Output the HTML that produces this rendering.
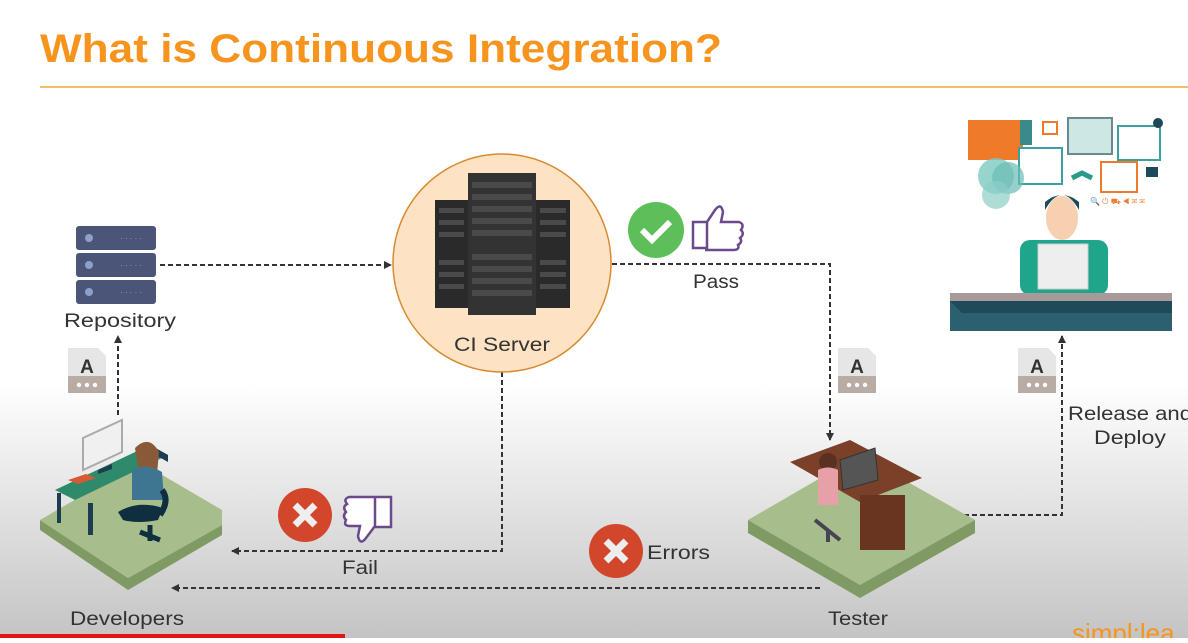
<!DOCTYPE html>
<html><head><meta charset="utf-8"><style>
body{margin:0;width:1188px;height:638px;overflow:hidden;font-family:"Liberation Sans",sans-serif}
</style></head><body>
<svg width="1188" height="638" viewBox="0 0 1188 638" xmlns="http://www.w3.org/2000/svg" font-family="Liberation Sans, sans-serif">
<defs>
<linearGradient id="bg" x1="0" y1="0" x2="0" y2="1">
<stop offset="0" stop-color="#fff"/><stop offset="0.6" stop-color="#fff"/><stop offset="1" stop-color="#c4c4c4"/>
</linearGradient>
<marker id="ar" markerWidth="8" markerHeight="8" refX="7" refY="4" orient="auto" markerUnits="userSpaceOnUse"><path d="M0,0 L8,4 L0,8 z" fill="#333"/></marker>
</defs>
<rect width="1188" height="638" fill="url(#bg)"/>
<text x="40" y="62" font-size="40" font-weight="bold" fill="#f7941d" textLength="682" lengthAdjust="spacingAndGlyphs">What is Continuous Integration?</text>
<line x1="40" y1="87" x2="1188" y2="87" stroke="#f7a440" stroke-width="1.5"/>

<g stroke="#333" stroke-width="2" stroke-dasharray="5,3" fill="none">
<path d="M160,265 H391" marker-end="url(#ar)"/>
<path d="M612,264 H830 V440" marker-end="url(#ar)"/>
<path d="M118,415 V336" marker-end="url(#ar)"/>
<path d="M502,372 V551 H232" marker-end="url(#ar)"/>
<path d="M820,588 H172" marker-end="url(#ar)"/>
<path d="M940,515 H1062 V336" marker-end="url(#ar)"/>
</g>

<g>
<rect x="76" y="226" width="80" height="24" rx="3" fill="#4a5578"/>
<rect x="76" y="253" width="80" height="24" rx="3" fill="#4a5578"/>
<rect x="76" y="280" width="80" height="24" rx="3" fill="#4a5578"/>
<circle cx="89" cy="238" r="4" fill="#8fa0c8"/><circle cx="89" cy="265" r="4" fill="#8fa0c8"/><circle cx="89" cy="292" r="4" fill="#8fa0c8"/>
<text x="120" y="241" font-size="8" fill="#aab" >· · · · ·</text>
<text x="120" y="268" font-size="8" fill="#aab">· · · · ·</text>
<text x="120" y="295" font-size="8" fill="#aab">· · · · ·</text>
</g>
<text x="120" y="327" font-size="19" fill="#333" text-anchor="middle" textLength="112" lengthAdjust="spacingAndGlyphs">Repository</text>

<circle cx="502" cy="263" r="109" fill="#fde3c3" stroke="#d88a30" stroke-width="1.5"/>
<rect x="435" y="200" width="135" height="108" fill="#2a2a2a"/>
<rect x="468" y="173" width="68" height="142" fill="#333"/>
<g fill="#4a4a4a">
<rect x="472" y="182" width="60" height="6"/><rect x="472" y="194" width="60" height="6"/><rect x="472" y="206" width="60" height="6"/><rect x="472" y="218" width="60" height="6"/><rect x="472" y="230" width="60" height="6"/><rect x="472" y="254" width="60" height="6"/><rect x="472" y="266" width="60" height="6"/><rect x="472" y="278" width="60" height="6"/><rect x="472" y="290" width="60" height="6"/>
<rect x="439" y="208" width="25" height="5"/><rect x="439" y="220" width="25" height="5"/><rect x="439" y="232" width="25" height="5"/><rect x="439" y="260" width="25" height="5"/><rect x="439" y="272" width="25" height="5"/><rect x="439" y="284" width="25" height="5"/>
<rect x="540" y="208" width="26" height="5"/><rect x="540" y="220" width="26" height="5"/><rect x="540" y="232" width="26" height="5"/><rect x="540" y="260" width="26" height="5"/><rect x="540" y="272" width="26" height="5"/><rect x="540" y="284" width="26" height="5"/>
</g>
<text x="502" y="351" font-size="19" fill="#333" text-anchor="middle" textLength="96" lengthAdjust="spacingAndGlyphs">CI Server</text>

<circle cx="656" cy="230" r="28" fill="#5cbf5a"/>
<path d="M642,230 l10,10 l18,-18" stroke="#fff" stroke-width="6" fill="none"/>
<path d="M693,222 h14 v26 h-14z M707,222 l8,-12 q6,-8 8,2 l-2,10 h18 q6,2 2,8 q4,4 -1,8 q3,4 -2,7 q2,5 -5,5 h-28" stroke="#6b4a8a" stroke-width="2.5" fill="#fff"/>
<text x="716" y="288" font-size="19" fill="#333" text-anchor="middle" textLength="46" lengthAdjust="spacingAndGlyphs">Pass</text>

<g id="doc">
<path d="M68,348 h30 l8,8 v37 h-38z" fill="#e6e6e6"/>
<rect x="68" y="376" width="38" height="17" fill="#b8aca4"/>
<text x="87" y="373" font-size="19" font-weight="bold" fill="#333" text-anchor="middle">A</text>
<circle cx="79" cy="385" r="2.2" fill="#fff"/><circle cx="87" cy="385" r="2.2" fill="#fff"/><circle cx="95" cy="385" r="2.2" fill="#fff"/>
</g>
<use href="#doc" x="770" y="0"/>
<use href="#doc" x="950" y="0"/>

<circle cx="305" cy="515" r="27" fill="#d2472b"/>
<path d="M295,505 l20,20 M315,505 l-20,20" stroke="#eee" stroke-width="7"/>
<path d="M375,497 h16 v30 h-16z M375,497 h-26 q-6,2 -2,7 q-5,3 -1,8 q-4,4 0,8 q-3,6 4,6 h10 l-2,10 q2,10 8,2 l9,-12" stroke="#6b4a8a" stroke-width="2.5" fill="#fff"/>
<text x="360" y="574" font-size="19" fill="#333" text-anchor="middle" textLength="36" lengthAdjust="spacingAndGlyphs">Fail</text>

<circle cx="616" cy="551" r="27" fill="#d2472b"/>
<path d="M606,541 l20,20 M626,541 l-20,20" stroke="#eee" stroke-width="7"/>
<text x="647" y="559" font-size="19" fill="#333" textLength="63" lengthAdjust="spacingAndGlyphs">Errors</text>

<path d="M40,520 L40,530 L128,590 L222,535 L222,525 L128,578z" fill="#7f9a63"/>
<path d="M40,520 L140,462 L222,510 L222,525 L128,578z" fill="#a7bd8b"/>
<path d="M55,490 L150,445 L168,455 L75,500z" fill="#2e8a6a"/>
<path d="M150,445 L168,455 L168,462 L150,452z" fill="#1e3d50"/>
<rect x="57" y="493" width="4" height="30" fill="#1e3d50"/><rect x="88" y="503" width="5" height="32" fill="#1e3d50"/>
<path d="M83,438 L122,420 L122,452 L83,470z" fill="#f0f0f0" stroke="#aaa" stroke-width="2"/>
<path d="M98,470 l14,-6 v5 l-14,5z" fill="#1e3d50"/>
<path d="M68,480 l18,-6 l10,4 l-18,6z" fill="#d85a35"/>
<path d="M135,448 q14,-14 24,4 l-2,22 h-18z" fill="#8a5a38"/>
<path d="M132,470 q14,-8 30,2 l2,28 h-32z" fill="#3e7590"/>
<path d="M118,512 q20,-12 45,-4 l-5,12 q-20,4 -35,0z" fill="#0f2f40"/>
<path d="M162,490 q8,10 -2,25" stroke="#0f2f40" stroke-width="6" fill="none"/>
<path d="M140,532 l20,8 M150,525 v16" stroke="#0f2f40" stroke-width="5"/>
<text x="127" y="625" font-size="19" fill="#333" text-anchor="middle" textLength="114" lengthAdjust="spacingAndGlyphs">Developers</text>

<path d="M748,520 L860,455 L975,520 L860,585z" fill="#a7bd8b"/>
<path d="M748,520 L748,533 L860,598 L975,533 L975,520 L860,585z" fill="#7f9a63"/>
<path d="M790,462 L850,440 L922,478 L860,502z" fill="#7a4028"/>
<rect x="860" y="495" width="45" height="55" fill="#6a3520"/>
<path d="M840,460 L875,448 L878,480 L843,490z" fill="#555" stroke="#333"/>
<circle cx="828" cy="462" r="9" fill="#5a3020"/>
<path d="M818,470 q10,-5 20,0 v35 h-20z" fill="#e8a0a8"/>
<path d="M815,520 l25,20 M828,530 v12" stroke="#445" stroke-width="4"/>
<text x="858" y="625" font-size="19" fill="#333" text-anchor="middle" textLength="60" lengthAdjust="spacingAndGlyphs">Tester</text>

<text x="1068" y="420" font-size="19" fill="#333" textLength="124" lengthAdjust="spacingAndGlyphs">Release and</text>
<text x="1094" y="444" font-size="19" fill="#333" textLength="72" lengthAdjust="spacingAndGlyphs">Deploy</text>

<rect x="968" y="120" width="55" height="40" fill="#ee7a2a"/>
<rect x="1020" y="120" width="12" height="25" fill="#3a8a8a"/>
<rect x="1043" y="122" width="14" height="12" fill="none" stroke="#ee7a2a" stroke-width="2"/>
<rect x="1068" y="118" width="44" height="36" fill="#cde8e4" stroke="#6a8a90" stroke-width="2"/>
<rect x="1118" y="126" width="42" height="34" fill="#fff" stroke="#3aa0a0" stroke-width="2"/>
<circle cx="1158" cy="123" r="5" fill="#1d4a5a"/>
<rect x="1019" y="148" width="43" height="36" fill="#fff" stroke="#3aa0a0" stroke-width="2"/>
<circle cx="996" cy="176" r="18" fill="#7cc9c0" opacity=".8"/><circle cx="1008" cy="178" r="16" fill="#6bbcb4" opacity=".7"/><circle cx="996" cy="195" r="14" fill="#8ccfc8" opacity=".7"/>
<path d="M1072,178 l10,-5 l10,5" stroke="#2a9a8a" stroke-width="5" fill="none"/>
<rect x="1101" y="162" width="36" height="30" fill="#fff" stroke="#ee7a2a" stroke-width="2"/>
<rect x="1146" y="167" width="12" height="10" fill="#1d4a5a"/>
<text x="1090" y="204" font-size="8" fill="#ee7a2a">🔍 ⏻ ⛟ ◀ ✉ ✉</text>
<rect x="1020" y="240" width="88" height="55" rx="10" fill="#1fa58a"/>
<ellipse cx="1062" cy="218" rx="16" ry="22" fill="#f6d0b0"/>
<path d="M1045,210 q17,-30 34,0 v-8 q-17,-14 -34,0z" fill="#1d4a5a"/>
<rect x="1038" y="244" width="50" height="45" fill="#eee" stroke="#ccc"/>
<rect x="950" y="293" width="222" height="8" fill="#a89a9a"/>
<rect x="950" y="301" width="222" height="30" fill="#2a6070"/>
<path d="M950,301 h222 v12 h-210z" fill="#1f4a5a"/>

<text x="1072" y="642" font-size="26" fill="#f7941d">simpl:lea</text>
<rect x="0" y="634" width="345" height="4" fill="#e81010"/>
</svg>
</body></html>
